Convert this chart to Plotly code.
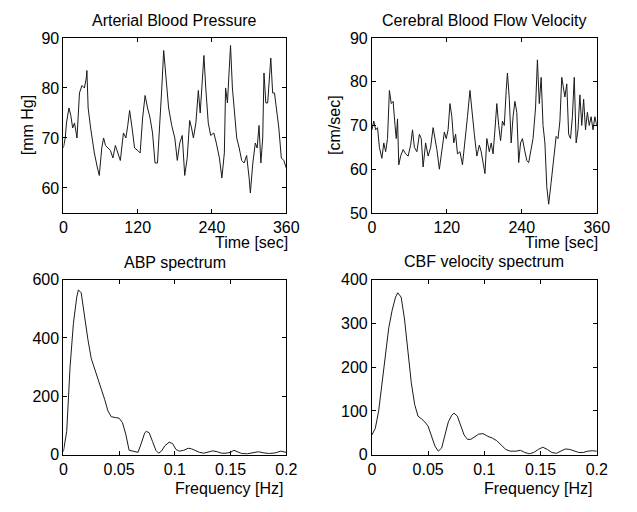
import plotly.graph_objects as go

# ---------------- data ----------------
abp_t = [0, 3, 5, 9, 12, 15, 18, 22, 26, 30, 34, 37, 38, 40, 44, 50, 55, 58, 62, 65, 68, 72, 76, 80,
         84, 88, 92, 97, 101, 104, 107, 111, 115, 120, 124, 128, 132, 136, 140, 144, 148, 152, 156,
         159, 162, 166, 170, 175, 180, 184, 188, 192, 196, 200, 204, 207, 210, 214, 218, 221, 224,
         227, 230, 234, 238, 243, 247, 252, 256, 260, 262, 265, 268, 270, 273, 276, 280, 284, 288,
         292, 296, 300, 302, 306, 310, 313, 316, 319, 322, 324, 327, 330, 333, 335, 338, 341, 344,
         348, 352, 356, 360]
abp_v = [68, 70, 73, 76, 74.5, 72, 73, 70, 79, 80.5, 80, 82, 83.5, 76, 72, 67, 64, 62.5, 68, 70,
         68.5, 68, 67.5, 66, 68.5, 67, 65.5, 71, 70, 72.5, 75.5, 72, 68, 67.5, 67, 74, 78.5, 76, 74,
         71, 65, 65, 73, 80, 87.5, 82, 76, 72.5, 70, 65.5, 69, 70.5, 62.5, 66, 73.5, 72, 70, 73, 79.5,
         75, 80, 86.5, 80, 73, 70.5, 71, 69, 66, 62, 67, 80, 77, 84, 88.5, 80, 75, 70, 68, 65.5, 65,
         66.5, 62, 59, 65, 69, 68, 72.5, 65, 70, 83, 77, 77, 83, 86, 79, 79, 76, 72, 66, 65.5, 64]

cbf_t = [0, 3, 6, 9, 12, 16, 19, 22, 25, 28, 31, 34, 37, 39, 41, 43, 46, 50, 54, 58, 62, 65, 68,
         72, 76, 79, 82, 86, 90, 94, 98, 101, 104, 108, 112, 116, 119, 122, 125, 128, 131, 134, 137,
         141, 145, 149, 153, 157, 160, 164, 168, 172, 175, 178, 181, 184, 188, 191, 194, 197, 200,
         203, 206, 209, 212, 215, 217, 220, 223, 226, 229, 232, 235, 238, 241, 245, 248, 251, 254,
         258, 262, 265, 268, 271, 274, 277, 280, 283, 287, 291, 295, 298, 301, 304, 307, 309, 312,
         315, 318, 321, 324, 327, 330, 333, 336, 339, 342, 345, 348, 351, 354, 357, 360]
cbf_v = [69, 71, 69, 69.5, 65, 62.5, 66, 64, 67, 78, 75, 75.5, 70, 67, 71.5, 61, 63, 64.5, 63.5,
         63, 65.5, 69, 65, 64, 68, 67, 60.5, 66, 63, 65, 69.5, 67, 64.5, 60, 64, 68.5, 67, 69, 75,
         72, 66, 68, 63.5, 64, 61, 66, 72, 78, 73, 68, 63, 65.5, 64, 61, 59, 67, 64, 66, 63.5, 69,
         75, 70, 66.5, 71, 70, 78, 82, 76, 66, 72, 75.5, 73, 61.5, 66, 67, 64, 62, 61.5, 64, 67, 74,
         85, 75, 81, 70, 66, 56, 52, 57, 62, 67.5, 67, 71, 81, 78, 76.5, 79.5, 68, 67, 72, 81, 66,
         69, 77, 70, 76, 69, 73, 70, 72, 69, 72, 70]

abp_f = [0, 0.003, 0.006, 0.009, 0.012, 0.0135, 0.016, 0.019, 0.022, 0.025, 0.028, 0.031, 0.034,
         0.037, 0.040, 0.043, 0.047, 0.050, 0.053, 0.056, 0.059, 0.062, 0.065, 0.067, 0.070, 0.073,
         0.0745, 0.077, 0.080, 0.083, 0.0855, 0.088, 0.091, 0.095, 0.098, 0.101, 0.104, 0.108,
         0.112, 0.115, 0.118, 0.122, 0.126, 0.130, 0.134, 0.138, 0.142, 0.146, 0.150, 0.153, 0.156,
         0.160, 0.165, 0.170, 0.175, 0.180, 0.185, 0.190, 0.195, 0.200]
abp_p = [10, 80, 300, 450, 540, 565, 555, 470, 395, 330, 295, 265, 230, 190, 150, 130, 127, 125,
         110, 70, 15, 12, 10, 8, 40, 75, 80, 75, 45, 15, 5, 12, 30, 43, 38, 18, 12, 15, 22, 20, 15,
         8, 5, 8, 13, 10, 5, 5, 8, 15, 10, 4, 3, 6, 10, 6, 4, 6, 12, 8]

cbf_f = [0, 0.003, 0.006, 0.009, 0.012, 0.015, 0.018, 0.021, 0.023, 0.026, 0.029, 0.032, 0.035,
         0.038, 0.041, 0.044, 0.047, 0.050, 0.053, 0.056, 0.059, 0.062, 0.065, 0.068, 0.071, 0.073,
         0.076, 0.079, 0.082, 0.085, 0.088, 0.091, 0.095, 0.099, 0.103, 0.107, 0.111, 0.115, 0.119,
         0.123, 0.128, 0.132, 0.136, 0.140, 0.144, 0.148, 0.152, 0.156, 0.160, 0.164, 0.168, 0.172,
         0.176, 0.180, 0.184, 0.188, 0.192, 0.196, 0.200]
cbf_p = [45, 60, 100, 160, 220, 290, 330, 360, 370, 360, 310, 240, 165, 115, 88, 82, 75, 65, 40,
         20, 8, 15, 45, 75, 90, 95, 88, 65, 45, 35, 35, 40, 47, 48, 42, 38, 32, 22, 12, 8, 8, 10, 5,
         2, 5, 12, 17, 12, 5, 3, 8, 13, 12, 8, 5, 5, 8, 9, 8]

time_ticks = [0, 120, 240, 360]
freq_ticks = [0, 0.05, 0.1, 0.15, 0.2]
freq_labels = ["0", "0.05", "0.1", "0.15", "0.2"]

# ---------------- layout helpers ----------------
W, H = 637, 512
FONT = "Liberation Sans, Arial, sans-serif"


def px(x):
    return x / W


def py(y):
    return 1 - y / H


LINE = dict(color="#1a1a1a", width=1)

fig = go.Figure()
fig.add_trace(go.Scatter(x=abp_t, y=abp_v, mode="lines", line=LINE, xaxis="x", yaxis="y"))
fig.add_trace(go.Scatter(x=cbf_t, y=cbf_v, mode="lines", line=LINE, xaxis="x2", yaxis="y2"))
fig.add_trace(go.Scatter(x=abp_f, y=abp_p, mode="lines", line=LINE, xaxis="x3", yaxis="y3"))
fig.add_trace(go.Scatter(x=cbf_f, y=cbf_p, mode="lines", line=LINE, xaxis="x4", yaxis="y4"))

axis_common = dict(showline=True, mirror="ticks", linecolor="black", linewidth=1,
                   ticks="inside", ticklen=4, tickcolor="black", showgrid=False,
                   zeroline=False, tickfont=dict(family=FONT, size=16, color="black"),
                   fixedrange=True)

dx_left = [px(61), px(290)]
dx_right = [px(378), px(609)]
dy_top = [py(212), py(31)]
dy_bot = [py(462), py(281)]

fig.update_layout(
    width=W, height=H, autosize=False,
    margin=dict(l=0, r=0, t=0, b=0),
    paper_bgcolor="white", plot_bgcolor="white",
    showlegend=False,
    font=dict(family=FONT, size=16, color="black"),
    xaxis=dict(domain=dx_left, anchor="y", range=[0, 360], tickvals=time_ticks, **axis_common),
    yaxis=dict(domain=dy_top, anchor="x", range=[55, 90], tickvals=[60, 70, 80, 90], **axis_common),
    xaxis2=dict(domain=dx_right, anchor="y2", range=[0, 360], tickvals=time_ticks, **axis_common),
    yaxis2=dict(domain=dy_top, anchor="x2", range=[50, 90], tickvals=[50, 60, 70, 80, 90], **axis_common),
    xaxis3=dict(domain=dx_left, anchor="y3", range=[0, 0.2], tickvals=freq_ticks,
                ticktext=freq_labels, **axis_common),
    yaxis3=dict(domain=dy_bot, anchor="x3", range=[0, 600], tickvals=[0, 200, 400, 600], **axis_common),
    xaxis4=dict(domain=dx_right, anchor="y4", range=[0, 0.2], tickvals=freq_ticks,
                ticktext=freq_labels, **axis_common),
    yaxis4=dict(domain=dy_bot, anchor="x4", range=[0, 400], tickvals=[0, 100, 200, 300, 400], **axis_common),
)


def note(text, x, y, xanchor="center", angle=0):
    fig.add_annotation(text=text, x=px(x), y=py(y), xref="paper", yref="paper",
                       xanchor=xanchor, yanchor="middle", showarrow=False, textangle=angle,
                       font=dict(family=FONT, size=16, color="black"))


note("Arterial Blood Pressure", 175.5, 13)
note("Cerebral Blood Flow Velocity", 493.5, 13)
note("ABP spectrum", 176, 263)
note("CBF velocity spectrum", 493.5, 262)
note("Time [sec]", 294, 243, xanchor="right")
note("Time [sec]", 612, 243, xanchor="right")
note("Frequency [Hz]", 289, 497, xanchor="right")
note("Frequency [Hz]", 606, 497, xanchor="right")
note("[mm Hg]", 25, 121, angle=-90)
note("[cm/sec]", 340, 121, angle=-90)

fig.write_html("out.html")
